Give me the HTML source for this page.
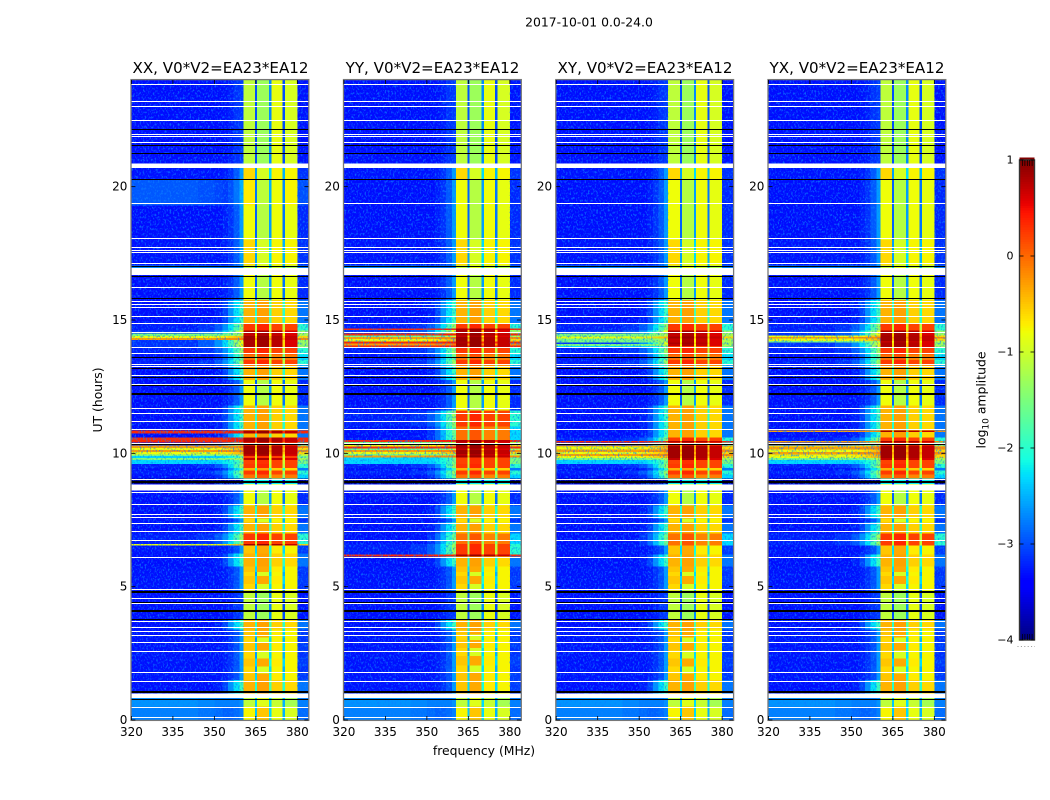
<!DOCTYPE html>
<html>
<head>
<meta charset="utf-8">
<title>2017-10-01 0.0-24.0</title>
<style>
html,body{margin:0;padding:0;background:#fff;}
svg{display:block;}
text{font-family:"DejaVu Sans","Liberation Sans",sans-serif;fill:#000;}
</style>
</head>
<body>
<svg id="figure" width="1050" height="800" viewBox="0 0 1050 800" xmlns="http://www.w3.org/2000/svg">
  <defs>
    <clipPath id="plot-clip"><rect x="0" y="80" width="1050" height="640"></rect></clipPath>
    <filter id="speckle" x="0" y="0" width="100%" height="100%" color-interpolation-filters="sRGB">
      <feTurbulence type="fractalNoise" baseFrequency="0.6 0.42" numOctaves="2" seed="7"></feTurbulence>
      <feColorMatrix type="matrix" values="0 0 0 0 0.05  0 0 0 0 0.5  0 0 0 0 1  4 0 0 0 -2.0"></feColorMatrix>
    </filter>
  </defs>
  <rect x="0" y="0" width="1050" height="800" fill="#fff"></rect>
  <text x="589" y="26.5" font-size="12.4" text-anchor="middle">2017-10-01 0.0-24.0</text>
  <text x="220.5" y="73" font-size="15.1" text-anchor="middle">XX, V0*V2=EA23*EA12</text>
  <text x="432.5" y="73" font-size="15.1" text-anchor="middle">YY, V0*V2=EA23*EA12</text>
  <text x="645" y="73" font-size="15.1" text-anchor="middle">XY, V0*V2=EA23*EA12</text>
  <text x="857" y="73" font-size="15.1" text-anchor="middle">YX, V0*V2=EA23*EA12</text>
  <text x="484" y="755" font-size="12.4" text-anchor="middle">frequency (MHz)</text>
  <text x="0" y="0" font-size="12.4" text-anchor="middle" transform="translate(102 400) rotate(-90)">UT (hours)</text>
  <text x="0" y="0" font-size="12.4" text-anchor="middle" transform="translate(985.5 400) rotate(-90)">log<tspan font-size="9" dy="3">10</tspan><tspan dy="-3"> amplitude</tspan></text>
  <g id="panels"></g>
  <g id="colorbar"></g>
</svg>
<script>
// ---- axis categories and tick labels ----
const freqTicks = [320, 335, 350, 365, 380];
const hourTicks = [0, 5, 10, 15, 20];
const colorbarTicks = [1, 0, -1, -2, -3, -4];

// frequency band edges in MHz (band i spans edge i to edge i+1)
const bandEdges = [320, 344, 350, 353, 355, 357, 359, 360.5, 364.7, 365.5, 369.8, 370.6, 374.7, 375.5, 380, 384];

// log10 amplitude on each frequency band, one array per kind of time row
const quietTop      = [-3.32,-3.32,-3.32,-3.3,-3.25,-3.15,-3.1,-1.1,-3.0,-1.3,-2.7,-0.85,-3.0,-0.95,-3.3];
const quietYellow   = [-3.32,-3.32,-3.32,-3.25,-3.15,-2.95,-2.6,-0.8,-2.9,-1.15,-2.6,-0.8,-2.8,-0.85,-3.2];
const liftedYellow  = [-2.95,-3.0,-3.05,-3.1,-3.0,-2.8,-2.5,-0.7,-2.8,-1.1,-2.5,-0.8,-2.7,-0.75,-3.0];
const yellowFlat    = [-3.3,-3.3,-3.3,-3.25,-3.15,-2.95,-2.6,-0.6,-2.6,-0.95,-2.3,-0.75,-2.5,-0.75,-3.15];
const orangeFlat    = [-3.3,-3.3,-3.3,-3.25,-3.15,-3.0,-2.6,-0.5,-2.3,-0.35,-2.1,-0.7,-2.3,-0.75,-3.1];
const orangeShoulder= [-3.32,-3.32,-3.25,-3.05,-2.65,-2.25,-1.9,-0.4,-2.0,-0.3,-1.8,-0.55,-2.0,-0.6,-2.8];
const redWarm       = [-3.32,-3.3,-3.15,-2.85,-2.45,-2.0,-1.6,-0.05,-1.5,0.1,-1.3,-0.15,-1.5,-0.1,-2.3];
const redHot        = [-3.25,-3.15,-2.95,-2.65,-2.25,-1.8,-1.3,0.25,-1.1,0.35,-1.0,0.2,-1.1,0.2,-2.0];
const darkCore      = [-3.15,-2.95,-2.65,-2.25,-1.85,-1.3,-0.8,0.8,-0.6,0.85,-0.5,0.75,-0.6,0.6,-1.3];
const yellowAcross  = [-0.8,-0.8,-0.75,-0.7,-0.6,-0.5,-0.4,0.85,-0.5,0.9,-0.4,0.8,-0.5,0.7,-0.6];
const orangeAcross  = [-0.3,-0.3,-0.25,-0.2,-0.2,-0.2,-0.1,0.85,-0.3,0.9,-0.2,0.8,-0.3,0.7,-0.2];
const redAcross     = [0.35,0.35,0.35,0.35,0.4,0.4,0.4,0.8,0.3,0.9,0.3,0.8,0.3,0.7,0.35];
const greenAcross   = [-1.5,-1.5,-1.5,-1.45,-1.4,-1.3,-1.1,0.7,-0.8,0.8,-0.7,0.7,-0.8,0.6,-1.2];
const cyanAcross    = [-2.3,-2.3,-2.3,-2.2,-2.1,-1.9,-1.5,0.2,-1.0,0.3,-0.9,0.2,-1.0,0.2,-1.5];
const nearBlack     = [-3.9,-3.9,-3.9,-3.9,-3.9,-3.9,-3.9,-2.2,-3.5,-2.2,-3.5,-2.2,-3.5,-2.2,-3.9];
const cyanFloorWarm = [-2.75,-2.8,-2.85,-2.9,-2.9,-2.85,-2.75,-0.75,-2.4,-0.5,-2.3,-0.85,-2.5,-0.95,-2.85];
const cyanFloorCool = [-2.65,-2.7,-2.75,-2.75,-2.75,-2.75,-2.65,-1.1,-2.4,-0.9,-2.3,-1.05,-2.5,-1.25,-2.75];

// timelines: [start hour, row kind], each row kind lasts until the next start hour
const xxTimeline = [[0,cyanFloorWarm],[0.5,cyanFloorCool],[1.0,orangeShoulder],[1.5,orangeFlat],[1.75,yellowFlat],[2.0,orangeFlat],[2.3,yellowFlat],[2.6,orangeFlat],[2.9,yellowFlat],[3.1,orangeFlat],[3.4,orangeShoulder],[3.75,quietTop],[4.85,yellowFlat],[5.1,orangeFlat],[5.4,yellowFlat],[5.55,orangeFlat],[5.75,orangeShoulder],[6.25,orangeFlat],[6.55,yellowAcross],[6.6,redHot],[7.0,orangeShoulder],[7.4,yellowFlat],[7.55,orangeShoulder],[8.05,quietYellow],[8.85,nearBlack],[9.05,redWarm],[9.2,redHot],[9.35,orangeShoulder],[9.45,redHot],[9.6,cyanAcross],[9.75,greenAcross],[9.83,cyanAcross],[9.9,greenAcross],[9.95,yellowAcross],[10.05,orangeAcross],[10.12,yellowAcross],[10.2,orangeAcross],[10.3,redHot],[10.4,redAcross],[10.6,orangeShoulder],[10.75,redAcross],[10.85,orangeShoulder],[11.8,quietYellow],[12.75,orangeShoulder],[13.3,redHot],[13.5,redWarm],[13.7,redHot],[13.95,darkCore],[14.25,orangeAcross],[14.32,yellowAcross],[14.4,greenAcross],[14.5,darkCore],[14.6,redHot],[14.85,orangeShoulder],[15.75,quietYellow],[16.95,cyanFloorCool],[17.05,yellowFlat],[18.0,quietYellow],[19.3,liftedYellow],[20.25,yellowFlat],[20.87,quietTop],[24,quietTop]];

const yyTimeline = [[0,cyanFloorWarm],[0.5,cyanFloorCool],[1.0,orangeFlat],[1.8,yellowFlat],[2.05,orangeFlat],[2.4,yellowFlat],[2.7,orangeFlat],[3.0,yellowFlat],[3.2,orangeFlat],[3.4,orangeShoulder],[3.75,quietTop],[4.85,yellowFlat],[5.1,orangeFlat],[5.4,yellowFlat],[5.55,orangeFlat],[5.75,orangeShoulder],[6.13,redAcross],[6.2,redHot],[6.6,redWarm],[7.0,orangeShoulder],[7.4,yellowFlat],[7.55,orangeShoulder],[8.05,quietYellow],[8.85,nearBlack],[9.05,redWarm],[9.2,redHot],[9.35,orangeShoulder],[9.45,redHot],[9.6,cyanAcross],[9.75,cyanAcross],[9.85,orangeAcross],[9.92,greenAcross],[9.98,yellowAcross],[10.05,orangeAcross],[10.12,greenAcross],[10.18,redAcross],[10.25,yellowAcross],[10.35,greenAcross],[10.42,redAcross],[10.5,redWarm],[11.0,redHot],[11.6,quietYellow],[12.75,orangeShoulder],[13.3,redHot],[13.5,redWarm],[13.7,redHot],[13.95,redAcross],[14.05,orangeAcross],[14.12,redAcross],[14.2,yellowAcross],[14.28,orangeAcross],[14.36,greenAcross],[14.42,redAcross],[14.5,darkCore],[14.62,redAcross],[14.68,redHot],[14.85,orangeShoulder],[15.75,quietYellow],[16.95,cyanFloorCool],[17.05,yellowFlat],[18.0,quietYellow],[19.3,quietYellow],[20.25,yellowFlat],[20.87,quietTop],[24,quietTop]];

const xyTimeline = [[0,cyanFloorWarm],[0.5,cyanFloorCool],[1.0,orangeShoulder],[1.5,orangeFlat],[1.75,yellowFlat],[2.0,orangeFlat],[2.3,yellowFlat],[2.6,orangeFlat],[2.9,yellowFlat],[3.1,orangeFlat],[3.4,orangeShoulder],[3.75,quietTop],[4.85,yellowFlat],[5.1,orangeFlat],[5.4,yellowFlat],[5.55,orangeFlat],[5.75,orangeShoulder],[6.2,orangeFlat],[6.55,redWarm],[7.0,orangeShoulder],[7.4,yellowFlat],[7.55,orangeShoulder],[8.05,quietYellow],[8.85,nearBlack],[9.05,redWarm],[9.2,redHot],[9.35,orangeShoulder],[9.45,redHot],[9.6,cyanAcross],[9.75,greenAcross],[9.83,yellowAcross],[9.9,orangeAcross],[9.98,yellowAcross],[10.05,orangeAcross],[10.15,yellowAcross],[10.25,orangeAcross],[10.3,redHot],[10.4,redAcross],[10.47,redHot],[10.6,orangeShoulder],[11.8,quietYellow],[12.75,orangeShoulder],[13.3,redHot],[13.5,redWarm],[13.7,redHot],[13.95,cyanAcross],[14.02,greenAcross],[14.1,darkCore],[14.15,greenAcross],[14.3,yellowAcross],[14.38,greenAcross],[14.5,darkCore],[14.6,redHot],[14.85,orangeShoulder],[15.75,quietYellow],[16.95,cyanFloorCool],[17.05,yellowFlat],[18.0,quietYellow],[19.3,quietYellow],[20.25,yellowFlat],[20.87,quietTop],[24,quietTop]];

const yxTimeline = [[0,cyanFloorWarm],[0.5,cyanFloorCool],[1.0,orangeShoulder],[1.5,orangeFlat],[1.75,yellowFlat],[2.0,orangeFlat],[2.3,yellowFlat],[2.6,orangeFlat],[2.9,yellowFlat],[3.1,orangeFlat],[3.4,orangeShoulder],[3.75,quietTop],[4.85,yellowFlat],[5.1,orangeFlat],[5.4,yellowFlat],[5.55,orangeFlat],[5.75,orangeShoulder],[6.2,orangeFlat],[6.55,redHot],[7.0,orangeShoulder],[7.4,yellowFlat],[7.55,orangeShoulder],[8.05,quietYellow],[8.85,nearBlack],[9.05,redWarm],[9.2,redHot],[9.35,orangeShoulder],[9.45,redHot],[9.6,cyanAcross],[9.75,greenAcross],[9.83,yellowAcross],[9.95,orangeAcross],[10.05,yellowAcross],[10.15,orangeAcross],[10.25,yellowAcross],[10.3,redHot],[10.4,orangeAcross],[10.47,redHot],[10.6,orangeShoulder],[10.8,orangeAcross],[10.85,orangeShoulder],[11.8,quietYellow],[12.75,orangeShoulder],[13.3,redHot],[13.5,redWarm],[13.7,redHot],[13.95,darkCore],[14.15,greenAcross],[14.22,yellowAcross],[14.3,orangeAcross],[14.36,yellowAcross],[14.42,darkCore],[14.6,redHot],[14.85,orangeShoulder],[15.75,quietYellow],[16.95,cyanFloorCool],[17.05,yellowFlat],[18.0,quietYellow],[19.3,quietYellow],[20.25,yellowFlat],[20.87,quietTop],[24,quietTop]];

// flagged time ranges shared by all polarisations (hours)
const maskedHours = [0.1,0.5,1.45,1.79,2.6,2.91,3.18,3.34,3.5,3.7,4.4,4.56,4.9,6.1,6.74,7.09,7.4,7.6,7.72,8.11,8.55,9.05,10.38,10.91,11.2,11.52,11.69,12.59,12.93,13.27,13.35,13.75,13.97,14.56,14.88,15.15,15.5,15.6,15.71,16.23,17.13,17.54,17.63,17.75,18.09,19.38,21.68,21.9,21.99,22.49,23.01,23.22,23.84];
const maskedGapStarts = [0.82,8.6,16.68,20.7];
const maskedGapEnds = [1.0,8.83,16.95,20.87];
const blackHours = [0.78,3.79,4.42,12.86,13.2,13.6,15.81,17.03,16.66,20.28,21.25,21.55,22.15,10.35,12.55];
const blackThickHours = [1.06,4.1,4.81,8.92,12.21];

// ---- axis functions ----
const SVGNS = 'http://www.w3.org/2000/svg';
const PLOT_TOP = 80, PLOT_BOTTOM = 720, PLOT_W = 177;
const panelLeft = {xx:131.4, yy:343.9, xy:556.2, yx:768.4};
function xAxis(left, mhz){ return left + (mhz - 320) * PLOT_W / 64; }
function yAxis(hour){ return PLOT_BOTTOM - hour * (PLOT_BOTTOM - PLOT_TOP) / 24; }
function cbAxis(v){ return 640 - (v + 4) * 480 / 5; }

function ramp(t, pts){
  for(let i = 1; i < pts.length; i++){
    if(t <= pts[i][0]){
      const a = pts[i-1], b = pts[i];
      return a[1] + (b[1] - a[1]) * (t - a[0]) / (b[0] - a[0]);
    }
  }
  return pts[pts.length-1][1];
}
function jet(v){
  const t = Math.max(0, Math.min(1, (v + 4) / 5));
  const r = ramp(t, [[0,0],[0.35,0],[0.66,1],[0.89,1],[1,0.5]]);
  const g = ramp(t, [[0,0],[0.125,0],[0.375,1],[0.64,1],[0.91,0],[1,0]]);
  const b = ramp(t, [[0,0.5],[0.11,1],[0.34,1],[0.65,0],[1,0]]);
  return 'rgb(' + Math.round(r*255) + ',' + Math.round(g*255) + ',' + Math.round(b*255) + ')';
}
function make(tag, attrs, parent){
  const el = document.createElementNS(SVGNS, tag);
  for(const k in attrs){ el.setAttribute(k, attrs[k]); }
  parent.appendChild(el);
  return el;
}

function drawPanel(key, timeline){
  const left = panelLeft[key];
  const root = document.getElementById('panels');
  const g = make('g', {}, root);
  
  

  const heat = make('g', {'clip-path':'url(#plot-clip)', 'shape-rendering':'crispEdges'}, g);
  
  

  for(let s = 0; s < timeline.length - 1; s++){
    const y0 = yAxis(timeline[s+1][0]);
    const y1 = yAxis(timeline[s][0]);
    const values = timeline[s][1];
    for(let b = 0; b < values.length; b++){
      const x0 = xAxis(left, bandEdges[b]);
      const x1 = xAxis(left, bandEdges[b+1]);
      const cell = make('rect', {x:x0, y:y0, width:x1-x0, height:y1-y0, fill:jet(values[b])}, heat);
      
      
    }
  }

  const texL = xAxis(left, 320), texM = xAxis(left, 360.5);
  const textureLow = make('rect', {x:texL, y:PLOT_TOP, width:texM-texL, height:PLOT_BOTTOM-PLOT_TOP, filter:'url(#speckle)', opacity:0.7}, g);
  
  
  const texR = xAxis(left, 380), texE = xAxis(left, 384);
  const textureHigh = make('rect', {x:texR, y:PLOT_TOP, width:texE-texR, height:PLOT_BOTTOM-PLOT_TOP, filter:'url(#speckle)', opacity:0.7}, g);
  
  

  const flags = make('g', {'shape-rendering':'crispEdges'}, g);
  
  

  maskedGapStarts.forEach(function(start, i){
    const y = yAxis(maskedGapEnds[i]);
    const gap = make('rect', {x:left, y:y, width:PLOT_W, height:yAxis(start)-y, fill:'#fff'}, flags);
    
    
  });
  maskedHours.forEach(function(h){
    const line = make('rect', {x:left, y:Math.round(yAxis(h)), width:PLOT_W, height:1, fill:'#fff'}, flags);
    
    
  });
  blackHours.forEach(function(h){
    const line = make('rect', {x:left, y:Math.round(yAxis(h)), width:PLOT_W, height:1, fill:'#000'}, flags);
    
    
  });
  blackThickHours.forEach(function(h){
    const line = make('rect', {x:left, y:Math.round(yAxis(h))-1, width:PLOT_W, height:2, fill:'#000'}, flags);
    
    
  });

  const frame = make('rect', {x:left-0.4, y:PLOT_TOP-0.4, width:PLOT_W+0.8, height:PLOT_BOTTOM-PLOT_TOP+0.8, fill:'none', stroke:'#777', 'stroke-width':1.3}, g);
  
  

  freqTicks.forEach(function(f){
    const x = xAxis(left, f);
    const tb = make('line', {x1:x, x2:x, y1:PLOT_BOTTOM, y2:PLOT_BOTTOM-4, stroke:'#000', 'stroke-width':0.8}, g);
    
    
    const tt = make('line', {x1:x, x2:x, y1:PLOT_TOP, y2:PLOT_TOP+4, stroke:'#000', 'stroke-width':0.8}, g);
    
    
    const lab = make('text', {x:x, y:736, 'font-size':12, 'text-anchor':'middle'}, g);
    
    
    lab.textContent = String(f);
  });
  hourTicks.forEach(function(h){
    const y = yAxis(h);
    const tl = make('line', {x1:left, x2:left+4, y1:y, y2:y, stroke:'#000', 'stroke-width':0.8}, g);
    
    
    const tr = make('line', {x1:left+PLOT_W, x2:left+PLOT_W-4, y1:y, y2:y, stroke:'#000', 'stroke-width':0.8}, g);
    
    
    const lab = make('text', {x:left-4, y:y+4, 'font-size':12, 'text-anchor':'end'}, g);
    
    
    lab.textContent = String(h);
  });
}

function drawColorbar(){
  const g = document.getElementById('colorbar');
  const left = 1019.5, width = 15;
  for(let v = -4; v < 1; v += 0.025){
    const y1 = cbAxis(v), y0 = cbAxis(v + 0.025);
    const step = make('rect', {x:left, y:y0-0.2, width:width, height:y1-y0+0.4, fill:jet(v + 0.0125), 'shape-rendering':'crispEdges'}, g);
    
    
  }
  const frame = make('rect', {x:left, y:160, width:width, height:480, fill:'none', stroke:'#333', 'stroke-width':1.4}, g);
  
  
  colorbarTicks.forEach(function(v){
    const y = cbAxis(v);
    const a = make('line', {x1:left, x2:left+4, y1:y, y2:y, stroke:'#000', 'stroke-width':0.8}, g);
    
    
    const b = make('line', {x1:left+width, x2:left+width-4, y1:y, y2:y, stroke:'#000', 'stroke-width':0.8}, g);
    
    
    const lab = make('text', {x:1013.5, y:y+3.5, 'font-size':11, 'text-anchor':'end'}, g);
    
    
    lab.textContent = (v < 0 ? '\u2212' + Math.abs(v) : String(v));
  });
  for(let i = 0; i < 5; i++){
    const x = left + 3 + i * 2.4;
    const tt = make('line', {x1:x, x2:x, y1:160, y2:166, stroke:'#000', 'stroke-width':0.7}, g);
    
    
    const tb = make('line', {x1:x, x2:x, y1:640, y2:634, stroke:'#000', 'stroke-width':0.7}, g);
    
    
  }
  const dots = make('line', {x1:1017.5, x2:1035, y1:646.5, y2:646.5, stroke:'#999', 'stroke-width':1, 'stroke-dasharray':'1 2.4'}, g);
  
  
}

drawPanel('xx', xxTimeline);
drawPanel('yy', yyTimeline);
drawPanel('xy', xyTimeline);
drawPanel('yx', yxTimeline);
drawColorbar();
</script>
</body>
</html>
